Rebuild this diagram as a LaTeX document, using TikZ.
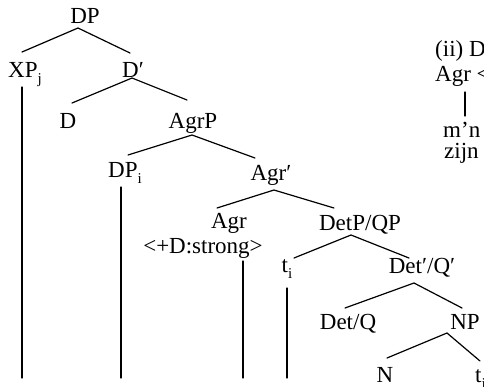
\documentclass[tikz,border=0pt]{standalone}
\usepackage{fontspec}
\setmainfont{Liberation Serif}
\newcommand{\sbs}[1]{\raisebox{-0.3em}{\fontsize{15}{15}\selectfont #1}}
\begin{document}
\begin{tikzpicture}[x=1pt,y=-1pt,
  lab/.style={inner sep=0pt, anchor=base, font=\fontsize{23}{26}\selectfont},
  labw/.style={lab, anchor=base west},
  edge/.style={line width=1.2pt, line cap=round}]
\useasboundingbox (0,0) rectangle (484,386);
\clip (0,0) rectangle (484,386);
% labels
\node[lab] (DP) at (85,23) {DP};
\node[lab] (XPj) at (25,77) {XP\sbs{j}};
\node[lab] (Dbar) at (133,77) {D′};
\node[lab] (D) at (68,128) {D};
\node[lab] (AgrP) at (193,128) {AgrP};
\node[lab] (DPi) at (125,177) {DP\sbs{i}};
\node[lab] (Agrbar) at (271,180) {Agr′};
\node[lab] (Agr) at (229,228) {Agr};
\node[lab] (feat) at (203,253) {<+D:strong>};
\node[lab] (DetP) at (360,230) {DetP/QP};
\node[lab] (ti) at (287,272) {t\sbs{i}};
\node[lab] (Detbar) at (422,273) {Det′/Q′};
\node[lab] (DetQ) at (348,329) {Det/Q};
\node[lab] (NP) at (465,329) {NP};
\node[lab] (N) at (385,382) {N};
\node[labw] (tj) at (475,382) {t\sbs{j}};
\node[labw] (ii) at (435,56) {(ii) D};
\node[labw] (agrtwo) at (435,81) {Agr <};
\node[labw] (mn) at (443,137) {m’n};
\node[labw] (zijn) at (444,158) {zijn};
% attachment points
\coordinate (DP-b) at (78,28);
\coordinate (XPj-t) at (22,52);
\coordinate (Dbar-t) at (130,53);
\coordinate (Dbar-b) at (132,78);
\coordinate (D-t) at (72,103);
\coordinate (AgrP-t) at (187,100);
\coordinate (AgrP-b) at (192,135);
\coordinate (DPi-t) at (128,155);
\coordinate (Agrbar-t) at (255,158);
\coordinate (Agrbar-b) at (274,190);
\coordinate (Agr-t) at (217,208);
\coordinate (DetP-t) at (334,208);
\coordinate (DetP-b) at (351,235);
\coordinate (ti-t) at (294,258);
\coordinate (Detbar-t) at (409,258);
\coordinate (Detbar-b) at (414,283);
\coordinate (DetQ-t) at (345,308);
\coordinate (NP-t) at (462,308);
\coordinate (NP-b) at (447,333);
\coordinate (N-t) at (387,358);
\coordinate (tj-t) at (480,361);
\coordinate (XPj-b) at (22,87);
\coordinate (XPj-e) at (22,378);
\coordinate (DPi-b) at (121,187);
\coordinate (DPi-e) at (121,378);
\coordinate (feat-b) at (243,261);
\coordinate (feat-e) at (243,378);
\coordinate (ti-b) at (287,288);
\coordinate (ti-e) at (287,378);
\coordinate (agrtwo-b) at (465,92);
\coordinate (mn-t) at (465,116);
% branches
\draw[edge] (XPj-t) -- (DP-b) -- (Dbar-t);
\draw[edge] (D-t) -- (Dbar-b) -- (AgrP-t);
\draw[edge] (DPi-t) -- (AgrP-b) -- (Agrbar-t);
\draw[edge] (Agr-t) -- (Agrbar-b) -- (DetP-t);
\draw[edge] (ti-t) -- (DetP-b) -- (Detbar-t);
\draw[edge] (DetQ-t) -- (Detbar-b) -- (NP-t);
\draw[edge] (N-t) -- (NP-b) -- (tj-t);
% vertical lines
\draw[edge] (XPj-b) -- (XPj-e);
\draw[edge] (DPi-b) -- (DPi-e);
\draw[edge] (feat-b) -- (feat-e);
\draw[edge] (ti-b) -- (ti-e);
\draw[edge] (agrtwo-b) -- (mn-t);
\end{tikzpicture}
\end{document}
